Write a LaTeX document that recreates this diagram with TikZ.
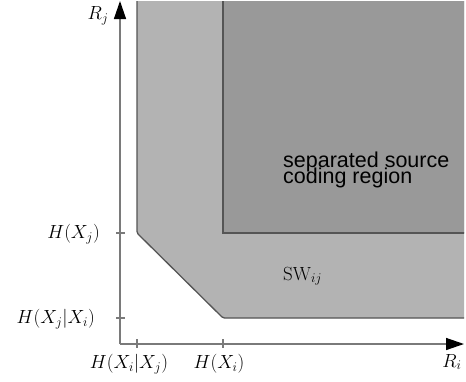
\RequirePackage{fix-cm}
\documentclass[tikz,border=0pt]{standalone}
\usepackage{fontspec}
\newfontfamily\sflab{Liberation Sans}
\usetikzlibrary{arrows.meta}
\definecolor{lightreg}{HTML}{B3B3B3}
\definecolor{darkreg}{HTML}{999999}
\definecolor{edgecol}{HTML}{555555}
\definecolor{axiscol}{HTML}{7A7A7A}
\begin{document}
\begin{tikzpicture}[x=1pt,y=-1pt,
  axis/.style={draw=axiscol,line width=1.4pt,-{Triangle[length=18pt,width=12pt,color=black]}},
  tick/.style={draw=axiscol,line width=1.3pt},
  region/.style={draw=edgecol,line width=1.3pt},
  mlab/.style={inner sep=0pt,font=\fontsize{19}{22}\selectfont},
  slab/.style={inner sep=0pt,anchor=base west,font=\sflab\fontsize{21.5}{16}\selectfont}]
\useasboundingbox (0,0) rectangle (466,381);
\begin{scope}
  \clip (0,1) rectangle (464,381);
  \path[region,fill=lightreg,rounded corners=1.5pt] (137,-10) -- (137,233) -- (223,318) -- (480,318) -- (480,-10) -- cycle;
  \path[region,fill=darkreg] (223,-10) -- (223,233) -- (480,233) -- (480,-10) -- cycle;
\end{scope}
\coordinate (o) at (120,344);
\coordinate (ytop) at (120,1);
\coordinate (xend) at (464,344);
\draw[axis] (o) -- (ytop);
\draw[axis] (o) -- (xend);
\coordinate (ty1a) at (116,233); \coordinate (ty1b) at (125,233);
\coordinate (ty2a) at (116,318); \coordinate (ty2b) at (125,318);
\coordinate (tx1a) at (137,339); \coordinate (tx1b) at (137,348);
\coordinate (tx2a) at (223,339); \coordinate (tx2b) at (223,348);
\draw[tick] (ty1a) -- (ty1b);
\draw[tick] (ty2a) -- (ty2b);
\draw[tick] (tx1a) -- (tx1b);
\draw[tick] (tx2a) -- (tx2b);
\node[mlab] (rj) at (98,16) {$R_j$};
\node[mlab] (ri) at (452,362) {$R_i$};
\node[mlab,anchor=east] (hxj) at (100,234) {$H(X_j)$};
\node[mlab,anchor=east] (hxjxi) at (95,319) {$H(X_j|X_i)$};
\node[mlab] (hxixj) at (129,364) {$H(X_i|X_j)$};
\node[mlab] (hxi) at (219,364) {$H(X_i)$};
\node[slab] (sep1) at (283,167) {separated source};
\node[slab] (sep2) at (283,183) {coding region};
\node[mlab,anchor=base west] (sw) at (283,280) {$\mathrm{SW}_{ij}$};
\end{tikzpicture}
\end{document}
